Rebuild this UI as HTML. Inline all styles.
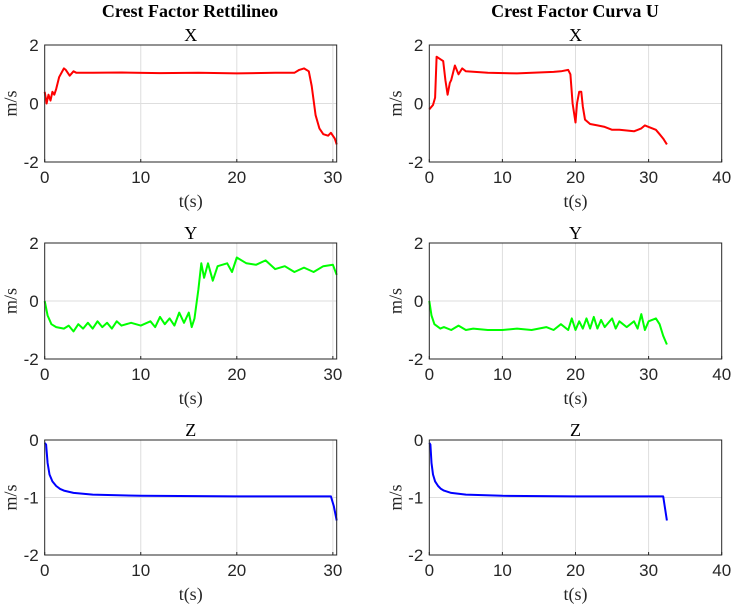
<!DOCTYPE html>
<html><head><meta charset="utf-8"><style>
body{margin:0;background:#fff;width:735px;height:608px;overflow:hidden}
svg text{font-family:"Liberation Sans",sans-serif}
.serif{font-family:"Liberation Serif",serif !important}
</style></head><body>
<svg id="fig" width="735" height="608" xmlns="http://www.w3.org/2000/svg"></svg>
<script>
const lxT=[0,0.2,0.4,0.6,0.8,1.0,1.2,1.5,2.0,2.2,2.6,3.0,3.3,5,8,12,16,20,24,26,26.5,27,27.5,27.8,28.2,28.6,29,29.5,29.8,30.2,30.4];
const lxV=[0.4,0.0,0.3,0.1,0.4,0.3,0.5,0.9,1.2,1.15,0.95,1.1,1.05,1.05,1.06,1.04,1.05,1.03,1.05,1.05,1.15,1.2,1.1,0.6,-0.4,-0.85,-1.05,-1.1,-1.0,-1.2,-1.4];
const rxT=[0,0.5,0.8,1.0,1.3,1.9,2.2,2.5,2.8,3.0,3.5,4,4.5,5,8,12,17,18,19,19.3,19.6,20,20.2,20.5,20.8,21,21.3,22,23,24,25,26,28,29,29.5,30,31,31.5,32,32.5];
const rxV=[-0.2,-0.05,0.2,1.6,1.55,1.45,0.8,0.3,0.7,0.8,1.3,1.0,1.2,1.1,1.05,1.03,1.08,1.1,1.15,1.0,0.0,-0.65,0.0,0.4,0.4,-0.1,-0.55,-0.7,-0.75,-0.8,-0.9,-0.9,-0.95,-0.85,-0.75,-0.8,-0.9,-1.05,-1.2,-1.4];
const lyT=[0,0.3,0.7,1.2,2,2.5,3,3.5,4,4.5,5,5.5,6,6.5,7,7.5,8,9,10,11,11.5,12,12.5,13,13.5,14,14.5,15,15.3,15.6,16,16.3,16.6,17,17.5,18,19,19.5,20,21,22,23,24,25,26,27,28,29,30,30.4];
const lyV=[0,-0.5,-0.8,-0.9,-0.95,-0.85,-1.05,-0.8,-0.95,-0.75,-0.95,-0.7,-0.9,-0.75,-0.95,-0.7,-0.85,-0.75,-0.85,-0.7,-0.9,-0.55,-0.8,-0.6,-0.85,-0.4,-0.75,-0.4,-0.9,-0.6,0.4,1.3,0.8,1.3,0.7,1.2,1.3,1.0,1.5,1.3,1.25,1.4,1.1,1.2,1.0,1.15,1.0,1.2,1.25,0.9];
const ryT=[0,0.3,0.7,1.5,2,3,4,5,6,8,10,12,14,16,17,18,19,19.5,20,20.5,21,21.5,22,22.5,23,23.5,24,25,25.5,26,27,28,28.5,29,29.5,30,31,31.5,32,32.5];
const ryV=[0,-0.5,-0.8,-0.95,-0.9,-1.0,-0.85,-1.0,-0.95,-1.0,-1.0,-0.95,-1.0,-0.9,-1.0,-0.8,-1.0,-0.6,-1.0,-0.7,-0.95,-0.6,-0.95,-0.55,-0.95,-0.65,-0.9,-0.6,-0.95,-0.7,-0.9,-0.7,-0.95,-0.45,-1.0,-0.7,-0.6,-0.8,-1.2,-1.5];
const lzT=[0,0.15,0.3,0.5,0.8,1.2,1.6,2,3,5,10,20,29.8,30.1,30.4];
const lzV=[-0.05,-0.08,-0.4,-0.6,-0.72,-0.8,-0.85,-0.88,-0.92,-0.95,-0.97,-0.98,-0.98,-1.15,-1.4];
const rzT=[0,0.15,0.3,0.5,0.8,1.2,1.6,2,3,5,10,20,32,32.5];
const rzV=[-0.05,-0.08,-0.4,-0.6,-0.72,-0.8,-0.85,-0.88,-0.92,-0.95,-0.97,-0.98,-0.98,-1.4];
const leftXTicks=[0,10,20,30];
const rightXTicks=[0,10,20,30,40];
const xyTicks=[-2,0,2];
const zTicks=[-2,-1,0];

const NS="http://www.w3.org/2000/svg";
const svg=document.getElementById('fig');
function el(tag,attrs,parent){const e=document.createElementNS(NS,tag);for(const k in attrs)e.setAttribute(k,attrs[k]);(parent||svg).appendChild(e);return e;}
function txt(s,attrs,parent){const e=el('text',attrs,parent);e.textContent=s;return e;}

function panel(name,x0,x1,y0,y1,xmax,ymin,ymax,xt,yt,T,V,color,title){
  const g=el('g',{});
  
  
  const sx=v=>x0+(v/xmax)*(x1-x0);
  const sy=v=>y1-(v-ymin)/(ymax-ymin)*(y1-y0);
  xt.forEach(t=>{const x=sx(t);
    if(t>0&&t<xmax){const l=el('line',{x1:x,x2:x,y1:y0,y2:y1,stroke:'#dedede','stroke-width':1},g);}
    const tl=txt(String(t),{x:x,y:y1+21,'text-anchor':'middle','font-size':17,fill:'#262626'},g);
    
    
    el('line',{x1:x,x2:x,y1:y1,y2:y1-3,stroke:'#262626'},g);
  });
  yt.forEach(t=>{const y=sy(t);
    if(t>ymin&&t<ymax){const l=el('line',{x1:x0,x2:x1,y1:y,y2:y,stroke:'#dedede','stroke-width':1},g);}
    const tl=txt(String(t),{x:x0-6,y:y+6,'text-anchor':'end','font-size':17,fill:'#262626'},g);
    
    
  });
  const pts=T.map((t,i)=>sx(t).toFixed(1)+','+sy(V[i]).toFixed(1)).join(' ');
  const pl=el('polyline',{points:pts,fill:'none',stroke:color,'stroke-width':2,'stroke-linejoin':'round'},g);
  
  
  const b=el('rect',{x:x0,y:y0,width:x1-x0,height:y1-y0,fill:'none',stroke:'#262626','stroke-width':1},g);
  
  
  const st=txt(title,{x:(x0+x1)/2,y:y0-4,'text-anchor':'middle','font-size':18,fill:'#000',class:'serif'},g);
  
  
  const xl=txt('t(s)',{x:(x0+x1)/2,y:y1+45,'text-anchor':'middle','font-size':18,fill:'#262626',class:'serif'},g);
  
  
  const cy=(y0+y1)/2;
  const yl=txt('m/s',{x:x0-28,y:cy,'text-anchor':'middle','font-size':18,fill:'#262626',class:'serif',transform:'rotate(-90 '+(x0-28)+' '+cy+')'},g);
  
  
}
const L=[44.7,336.7], R=[429.3,721.7];
const rows=[[45,162],[243,359],[440,555]];
panel('left-x-plot',L[0],L[1],rows[0][0],rows[0][1],30.4,-2,2,leftXTicks,xyTicks,lxT,lxV,'#ff0000','X');
panel('right-x-plot',R[0],R[1],rows[0][0],rows[0][1],40,-2,2,rightXTicks,xyTicks,rxT,rxV,'#ff0000','X');
panel('left-y-plot',L[0],L[1],rows[1][0],rows[1][1],30.4,-2,2,leftXTicks,xyTicks,lyT,lyV,'#00ff00','Y');
panel('right-y-plot',R[0],R[1],rows[1][0],rows[1][1],40,-2,2,rightXTicks,xyTicks,ryT,ryV,'#00ff00','Y');
panel('left-z-plot',L[0],L[1],rows[2][0],rows[2][1],30.4,-2,0,leftXTicks,zTicks,lzT,lzV,'#0000ff','Z');
panel('right-z-plot',R[0],R[1],rows[2][0],rows[2][1],40,-2,0,rightXTicks,zTicks,rzT,rzV,'#0000ff','Z');
const t1=txt('Crest Factor Rettilineo',{x:190,y:17,'text-anchor':'middle','font-size':18,'font-weight':'bold',class:'serif'});


const t2=txt('Crest Factor Curva U',{x:575,y:17,'text-anchor':'middle','font-size':18,'font-weight':'bold',class:'serif'});


</script>
</body></html>
